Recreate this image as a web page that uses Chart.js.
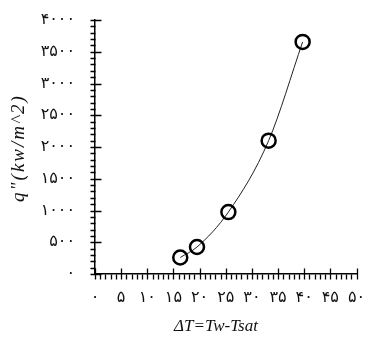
<!DOCTYPE html>
<html>
<head>
<meta charset="utf-8">
<script src="https://cdn.jsdelivr.net/npm/chart.js@4/dist/chart.umd.min.js"></script>
<style>
  html, body { margin: 0; padding: 0; background: #fff; }
  #wrap { width: 366px; height: 340px; }
</style>
</head>
<body>
<div id="wrap"><canvas id="c" width="366" height="340"></canvas></div>
<script>
// Boiling curve: wall superheat against heat flux
const deltaT = [16.3, 19.5, 25.5, 33.2, 39.7];
const heatFlux = [260, 425, 975, 2100, 3655];

const xTickLabels = ['۰', '۵', '۱۰', '۱۵', '۲۰', '۲۵', '۳۰', '۳۵', '۴۰', '۴۵', '۵۰'];
const yTickLabels = ['۰', '۵۰۰', '۱۰۰۰', '۱۵۰۰', '۲۰۰۰', '۲۵۰۰', '۳۰۰۰', '۳۵۰۰', '۴۰۰۰'];

const xTitle = 'ΔT=Tw-Tsat';
const yTitle = 'q"(kw/m^2)';

const points = deltaT.map((x, i) => ({ x: x, y: heatFlux[i] }));

const tickFont = { family: 'DejaVu Sans', size: 16 };

// Wider digit spacing for the tick labels
const digitSpacing = {
  id: 'digitSpacing',
  beforeDraw(chart) { chart.ctx.letterSpacing = '3px'; },
  afterDatasetsDraw(chart) { chart.ctx.letterSpacing = '0px'; }
};

// Major/minor tick marks and axis titles
const axisDecor = {
  id: 'axisDecor',
  afterDraw(chart) {
    const ctx = chart.ctx;
    const xs = chart.scales.x, ys = chart.scales.y;
    const area = chart.chartArea;
    const bx = Math.round(area.left) + 0.5;
    const by = Math.round(area.bottom) + 0.5;
    ctx.save();
    ctx.letterSpacing = '0px';
    ctx.strokeStyle = '#000';
    ctx.lineWidth = 1.3;
    ctx.beginPath();
    for (let v = 0; v <= 50; v++) {
      const px = Math.round(xs.getPixelForValue(v)) + 0.5;
      if (v % 5 === 0) { ctx.moveTo(px, by - 6); ctx.lineTo(px, by + 5); }
      else { ctx.moveTo(px, by); ctx.lineTo(px, by + 5); }
    }
    for (let v = 0; v <= 4000; v += 100) {
      const py = Math.round(ys.getPixelForValue(v)) + 0.5;
      if (v % 500 === 0) { ctx.moveTo(bx - 5, py); ctx.lineTo(bx + 6, py); }
      else { ctx.moveTo(bx - 5, py); ctx.lineTo(bx, py); }
    }
    ctx.stroke();

    ctx.fillStyle = '#111';
    ctx.textAlign = 'center';
    ctx.textBaseline = 'middle';
    ctx.font = 'italic 17px "Liberation Serif"';
    ctx.fillText(xTitle, 216, 327);
    ctx.translate(19, 148);
    ctx.rotate(-Math.PI / 2);
    ctx.font = 'italic 19px "Liberation Serif"';
    ctx.letterSpacing = '2px';
    ctx.fillText(yTitle, 0, 0);
    ctx.restore();
  }
};

new Chart(document.getElementById('c'), {
  type: 'scatter',
  data: {
    datasets: [{
      data: points,
      showLine: true,
      cubicInterpolationMode: 'monotone',
      borderColor: '#222',
      borderWidth: 1,
      pointRadius: 7,
      pointHoverRadius: 7,
      pointBorderWidth: 2.5,
      pointBorderColor: '#000',
      pointBackgroundColor: 'rgba(0,0,0,0)',
      clip: false
    }]
  },
  options: {
    responsive: false,
    animation: false,
    events: [],
    layout: { padding: { top: 20, right: 8, left: 0, bottom: 0 } },
    plugins: { legend: { display: false }, tooltip: { enabled: false } },
    scales: {
      x: {
        type: 'linear',
        min: 0, max: 50,
        afterFit(scale) {
          scale.height = 66;
          scale.paddingLeft = 0; scale.paddingRight = 0;
        },
        afterBuildTicks(scale) {
          scale.ticks = xTickLabels.map((_, i) => ({ value: i * 5 }));
        },
        grid: { display: false, drawTicks: false },
        border: { display: true, color: '#000', width: 1.5 },
        ticks: {
          padding: 14,
          color: '#111',
          font: tickFont,
          maxRotation: 0,
          autoSkip: false,
          callback: (v, i) => xTickLabels[i]
        }
      },
      y: {
        type: 'linear',
        min: 0, max: 4000,
        afterFit(scale) {
          scale.width = 95;
          scale.paddingTop = 0; scale.paddingBottom = 0;
        },
        afterBuildTicks(scale) {
          scale.ticks = yTickLabels.map((_, i) => ({ value: i * 500 }));
        },
        grid: { display: false, drawTicks: false },
        border: { display: true, color: '#000', width: 1.5 },
        ticks: {
          padding: 20,
          color: '#111',
          font: tickFont,
          autoSkip: false,
          callback: (v, i) => yTickLabels[i]
        }
      }
    }
  },
  plugins: [digitSpacing, axisDecor]
});
</script>
</body>
</html>
